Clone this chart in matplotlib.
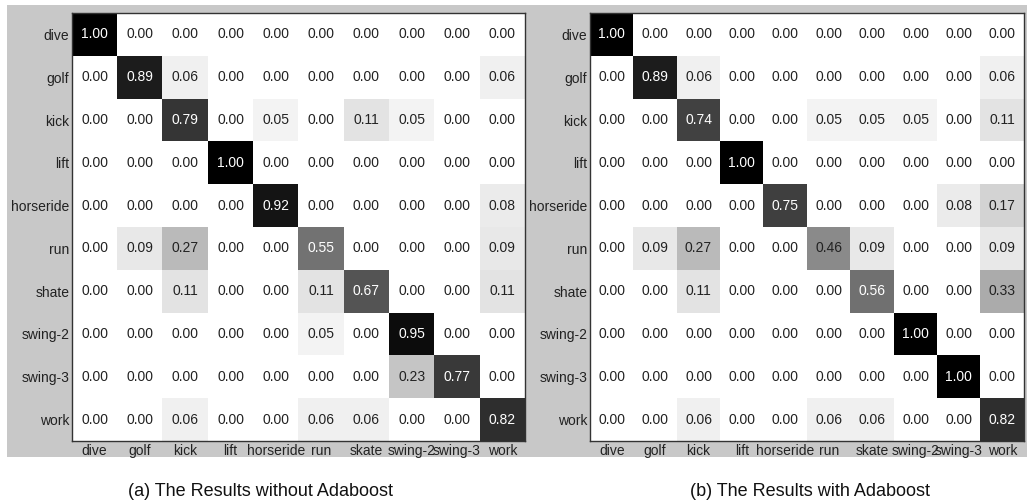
import numpy as np
import matplotlib.pyplot as plt
from matplotlib.patches import Rectangle

plt.rcParams['font.family'] = ['Liberation Sans', 'DejaVu Sans']

row_labels = ['dive', 'golf', 'kick', 'lift', 'horseride', 'run', 'shate', 'swing-2', 'swing-3', 'work']
col_labels = ['dive', 'golf', 'kick', 'lift', 'horseride', 'run', 'skate', 'swing-2', 'swing-3', 'work']

# (a) without Adaboost
conf_a = [
    [1.00, 0.00, 0.00, 0.00, 0.00, 0.00, 0.00, 0.00, 0.00, 0.00],
    [0.00, 0.89, 0.06, 0.00, 0.00, 0.00, 0.00, 0.00, 0.00, 0.06],
    [0.00, 0.00, 0.79, 0.00, 0.05, 0.00, 0.11, 0.05, 0.00, 0.00],
    [0.00, 0.00, 0.00, 1.00, 0.00, 0.00, 0.00, 0.00, 0.00, 0.00],
    [0.00, 0.00, 0.00, 0.00, 0.92, 0.00, 0.00, 0.00, 0.00, 0.08],
    [0.00, 0.09, 0.27, 0.00, 0.00, 0.55, 0.00, 0.00, 0.00, 0.09],
    [0.00, 0.00, 0.11, 0.00, 0.00, 0.11, 0.67, 0.00, 0.00, 0.11],
    [0.00, 0.00, 0.00, 0.00, 0.00, 0.05, 0.00, 0.95, 0.00, 0.00],
    [0.00, 0.00, 0.00, 0.00, 0.00, 0.00, 0.00, 0.23, 0.77, 0.00],
    [0.00, 0.00, 0.06, 0.00, 0.00, 0.06, 0.06, 0.00, 0.00, 0.82],
]

# (b) with Adaboost
conf_b = [
    [1.00, 0.00, 0.00, 0.00, 0.00, 0.00, 0.00, 0.00, 0.00, 0.00],
    [0.00, 0.89, 0.06, 0.00, 0.00, 0.00, 0.00, 0.00, 0.00, 0.06],
    [0.00, 0.00, 0.74, 0.00, 0.00, 0.05, 0.05, 0.05, 0.00, 0.11],
    [0.00, 0.00, 0.00, 1.00, 0.00, 0.00, 0.00, 0.00, 0.00, 0.00],
    [0.00, 0.00, 0.00, 0.00, 0.75, 0.00, 0.00, 0.00, 0.08, 0.17],
    [0.00, 0.09, 0.27, 0.00, 0.00, 0.46, 0.09, 0.00, 0.00, 0.09],
    [0.00, 0.00, 0.11, 0.00, 0.00, 0.00, 0.56, 0.00, 0.00, 0.33],
    [0.00, 0.00, 0.00, 0.00, 0.00, 0.00, 0.00, 1.00, 0.00, 0.00],
    [0.00, 0.00, 0.00, 0.00, 0.00, 0.00, 0.00, 0.00, 1.00, 0.00],
    [0.00, 0.00, 0.06, 0.00, 0.00, 0.06, 0.06, 0.00, 0.00, 0.82],
]

captions = ['(a) The Results without Adaboost', '(b) The Results with Adaboost']

W, H = 1027, 504
fig = plt.figure(figsize=(W / 100, H / 100), dpi=100)
fig.patch.set_facecolor('white')

# gray background behind both panels
fig.patches.append(Rectangle((7 / W, 1 - 457 / H), (W - 7) / W, (457 - 5) / H,
                             transform=fig.transFigure, facecolor='#c8c8c8',
                             edgecolor='none', zorder=-10))


def px_axes(x0, y0, x1, y1):
    return fig.add_axes([x0 / W, 1 - y1 / H, (x1 - x0) / W, (y1 - y0) / H])


boxes = [(72, 13, 525, 441), (590, 13, 1024, 441)]
cap_x = [260, 810]

for conf, box, cap, cx in zip([conf_a, conf_b], boxes, captions, cap_x):
    ax = px_axes(*box)
    m = np.array(conf)
    ax.imshow(m, cmap='gray_r', vmin=0, vmax=1, aspect='auto', interpolation='nearest')
    for i in range(m.shape[0]):
        for j in range(m.shape[1]):
            v = m[i, j]
            ax.text(j, i, f'{v:.2f}', ha='center', va='center', fontsize=10,
                    color='white' if v > 0.5 else '#222222')
    ax.set_xticks(range(len(col_labels)))
    ax.set_xticklabels(col_labels, fontsize=10, color='#222222')
    ax.set_yticks(range(len(row_labels)))
    ax.set_yticklabels(row_labels, fontsize=10, color='#222222')
    ax.tick_params(length=0, pad=2)
    for s in ax.spines.values():
        s.set_color('#333333')
        s.set_linewidth(1)
    fig.text(cx / W, 1 - 492 / H, cap, ha='center', va='center', fontsize=13, color='#111111')

fig.savefig('out.png', dpi=100)
